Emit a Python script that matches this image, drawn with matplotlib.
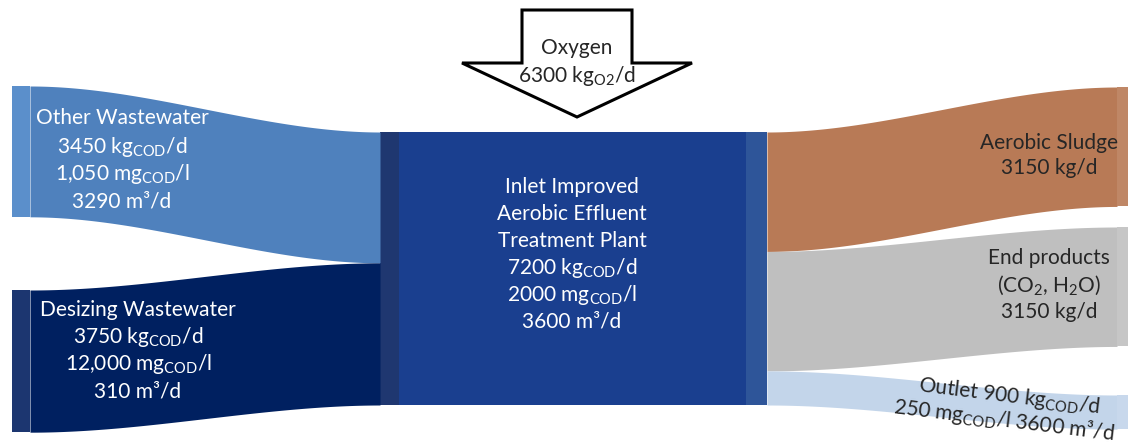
import numpy as np
import matplotlib.pyplot as plt
from matplotlib.patches import Polygon, Rectangle

plt.rcParams['font.family'] = ['Lato', 'DejaVu Sans']
plt.rcParams['mathtext.fontset'] = 'custom'
plt.rcParams['mathtext.rm'] = 'Lato'

# COD loads in kg/d
inlet_names = ['Other Wastewater', 'Desizing Wastewater']
inlet_loads = [3450, 3750]
inlet_conc = ['1,050', '12,000']
inlet_flow = [3290, 310]
plant_load = 7200
plant_conc = 2000
plant_flow = 3600
oxygen = 6300
outlet_names = ['Aerobic Sludge', 'End products', 'Outlet']
outlet_loads = [3150, 3150, 900]
outlet_conc = 250

sub = lambda s: r'$_{\mathregular{' + s + '}}$'

W, H = 1128, 445
fig = plt.figure(figsize=(W / 100, H / 100), dpi=100)
ax = fig.add_axes([0, 0, 1, 1])
ax.set_xlim(0, W)
ax.set_ylim(H, 0)
ax.axis('off')

scale = 273 / plant_load  # px per kg/d


def band(ax, x0, x1, top0, top1, width, color):
    x = np.linspace(x0, x1, 200)
    t = (x - x0) / (x1 - x0)
    s = 3 * t**2 - 2 * t**3
    top = top0 + (top1 - top0) * s
    ax.fill_between(x, top, top + width, color=color, lw=0)


# center node
c_x0, c_x1, c_top = 380, 767, 132
c_h = plant_load * scale
ax.add_patch(Rectangle((c_x0, c_top), c_x1 - c_x0, c_h, color='#1A3F8F', lw=0))
ax.add_patch(Rectangle((c_x0, c_top), 19, c_h, color='#1F3770', lw=0))
ax.add_patch(Rectangle((746, c_top), c_x1 - 746, c_h, color='#2E5599', lw=0))

# inlet flows
in_tops = [86, 290]
in_colors = ['#4F81BD', '#002060']
in_strip = ['#5B8FCB', '#1C3670']
y_in = c_top
for top, v, col, sc in zip(in_tops, inlet_loads, in_colors, in_strip):
    w = v * scale
    band(ax, 30, c_x0, top, y_in, w, col)
    ax.add_patch(Rectangle((12, top), 18, w, color=sc, lw=0))
    y_in += w

# outlet flows
out_tops = [87, 227, 395]
out_colors = ['#B87A56', '#BFBFBF', '#C3D5EA']
out_strip = ['#BF8766', '#C6C6C6', '#C8D8EC']
y_out = c_top
for top, v, col, sc in zip(out_tops, outlet_loads, out_colors, out_strip):
    w = v * scale
    band(ax, c_x1, 1117, y_out, top, w, col)
    ax.add_patch(Rectangle((1117, top), 11, w, color=sc, lw=0))
    y_out += w

# oxygen arrow
arrow = [(522, 10), (632, 10), (632, 63), (692, 63), (577, 117), (462, 63), (522, 63)]
ax.add_patch(Polygon(arrow, closed=True, fc='white', ec='black', lw=2.2, joinstyle='miter'))

fs = 15
white = dict(color='white', fontsize=fs, ha='center', va='center')
dark = dict(color='#262626', fontsize=fs, ha='center', va='center')

ax.text(577, 48, 'Oxygen', **dark)
ax.text(577, 76, f'{oxygen} kg' + sub('O2') + '/d', **dark)

lines = [inlet_names[0], f'{inlet_loads[0]} kg' + sub('COD') + '/d',
         f'{inlet_conc[0]} mg' + sub('COD') + '/l', f'{inlet_flow[0]} m³/d']
for y, s in zip([118, 147, 174, 201], lines):
    ax.text(122, y, s, **white)

lines = [inlet_names[1], f'{inlet_loads[1]} kg' + sub('COD') + '/d',
         f'{inlet_conc[1]} mg' + sub('COD') + '/l', f'{inlet_flow[1]} m³/d']
for y, s in zip([310, 337, 364, 391], lines):
    ax.text(138, y, s, **white)

lines = ['Inlet Improved', 'Aerobic Effluent', 'Treatment Plant',
         f'{plant_load} kg' + sub('COD') + '/d',
         f'{plant_conc} mg' + sub('COD') + '/l', f'{plant_flow} m³/d']
for y, s in zip([187, 214, 241, 268, 295, 322], lines):
    ax.text(572, y, s, **white)

ax.text(1049, 143, outlet_names[0], **dark)
ax.text(1049, 168, f'{outlet_loads[0]} kg/d', **dark)

ax.text(1049, 258, outlet_names[1], **dark)
ax.text(1049, 286, '(CO' + sub('2') + ', H' + sub('2') + 'O)', **dark)
ax.text(1049, 312, f'{outlet_loads[1]} kg/d', **dark)

ax.text(1009, 396, f'{outlet_names[2]} {outlet_loads[2]} kg' + sub('COD') + '/d',
        rotation=-7, rotation_mode='anchor', **dark)
ax.text(1004, 420, f'{outlet_conc} mg' + sub('COD') + f'/l {plant_flow} m³/d',
        rotation=-7, rotation_mode='anchor', **dark)

fig.savefig('out.png', dpi=100)
